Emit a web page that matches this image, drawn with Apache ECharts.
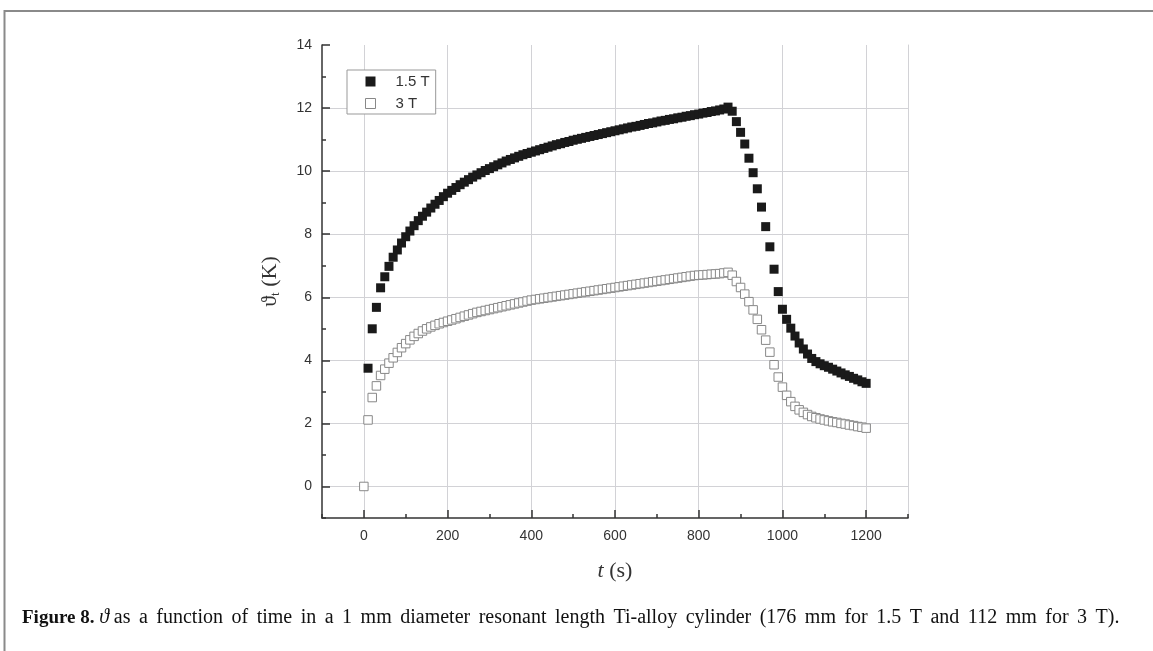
<!DOCTYPE html>
<html>
<head>
<meta charset="utf-8">
<script src="https://cdn.jsdelivr.net/npm/echarts@6/dist/echarts.min.js"></script>
<style>
  html, body { margin: 0; padding: 0; background: #fff; }
  #chart { width: 1153px; height: 651px; }
</style>
</head>
<body>
<div id="chart"></div>
<script>
// time axis (s), one sample every 10 s
const timesA = [] // 1.5 T: 10 .. 1200
const timesB = [] // 3 T: 0 .. 1200
for (let t = 10; t <= 1200; t += 10) timesA.push(t)
for (let t = 0; t <= 1200; t += 10) timesB.push(t)

// temperature rise (K)
const temp15T = [
  3.75, 5.00, 5.68, 6.30, 6.65, 6.98, 7.27, 7.50, 7.72, 7.92,
  8.10, 8.27, 8.43, 8.57, 8.70, 8.83, 8.95, 9.07, 9.19, 9.30,
  9.39, 9.48, 9.57, 9.65, 9.73, 9.81, 9.88, 9.95, 10.02, 10.08,
  10.14, 10.20, 10.26, 10.32, 10.37, 10.42, 10.47, 10.52, 10.56, 10.60,
  10.64, 10.68, 10.72, 10.76, 10.80, 10.84, 10.87, 10.91, 10.94, 10.98,
  11.01, 11.04, 11.07, 11.10, 11.13, 11.16, 11.19, 11.22, 11.25, 11.28,
  11.31, 11.34, 11.37, 11.40, 11.42, 11.45, 11.48, 11.51, 11.53, 11.56,
  11.59, 11.61, 11.64, 11.66, 11.69, 11.71, 11.74, 11.76, 11.79, 11.81,
  11.84, 11.86, 11.89, 11.91, 11.94, 11.97, 12.03, 11.90, 11.57, 11.23,
  10.86, 10.41, 9.95, 9.44, 8.86, 8.24, 7.60, 6.89, 6.18, 5.62,
  5.30, 5.02, 4.77, 4.55, 4.36, 4.20, 4.06, 3.96, 3.89, 3.83,
  3.78, 3.72, 3.66, 3.60, 3.54, 3.49, 3.43, 3.38, 3.32, 3.27
]
const temp3T = [
  0.00, 2.11, 2.82, 3.19, 3.52, 3.72, 3.91, 4.08, 4.25, 4.40, 4.53,
  4.65, 4.76, 4.85, 4.93, 5.00, 5.06, 5.11, 5.16, 5.20, 5.24,
  5.28, 5.32, 5.36, 5.40, 5.44, 5.48, 5.52, 5.55, 5.58, 5.61,
  5.64, 5.67, 5.70, 5.73, 5.76, 5.79, 5.82, 5.85, 5.88, 5.91,
  5.93, 5.95, 5.97, 5.99, 6.01, 6.03, 6.05, 6.07, 6.09, 6.11,
  6.13, 6.15, 6.17, 6.19, 6.21, 6.23, 6.25, 6.27, 6.29, 6.31,
  6.33, 6.35, 6.37, 6.39, 6.41, 6.43, 6.45, 6.47, 6.49, 6.51,
  6.53, 6.55, 6.57, 6.59, 6.61, 6.63, 6.65, 6.67, 6.69, 6.70,
  6.71, 6.72, 6.73, 6.74, 6.75, 6.77, 6.79, 6.70, 6.50, 6.31,
  6.10, 5.86, 5.60, 5.30, 4.97, 4.64, 4.26, 3.86, 3.47, 3.15,
  2.89, 2.69, 2.54, 2.43, 2.35, 2.28, 2.22, 2.18, 2.14, 2.11,
  2.08, 2.05, 2.03, 2.00, 1.98, 1.95, 1.93, 1.90, 1.88, 1.85
]

const xMajorTicks = [0, 200, 400, 600, 800, 1000, 1200]
const yMajorTicks = [0, 2, 4, 6, 8, 10, 12, 14]
const seriesNames = ['1.5 T', '3 T']
const captionText = 'as a function of time in a 1 mm diameter resonant length Ti-alloy cylinder (176 mm for 1.5 T and 112 mm for 3 T).'

const chart = echarts.init(document.getElementById('chart'))

const axisColor = '#333'
const gridColor = '#d2d2d6'
const serif = 'Liberation Serif, Times New Roman, serif'
const labelFont = { color: '#333', fontSize: 14, fontFamily: 'Liberation Sans, Arial, sans-serif' }

// caption words as separate rich tokens so the word gaps can be widened a bit
const captionRich = captionText.split(' ').map(w => '{w|' + w + ' }').join('')

const option = {
  animation: false,
  backgroundColor: '#fff',
  grid: { left: 322, right: 245, top: 45, bottom: 133 },
  legend: {
    orient: 'vertical',
    left: 347,
    top: 70,
    padding: [4, 6, 3, 18],
    itemGap: 7,
    itemWidth: 10,
    itemHeight: 10,
    backgroundColor: '#fff',
    borderColor: '#999',
    borderWidth: 1,
    textStyle: { ...labelFont, fontSize: 15, padding: [0, 0, 0, 15] },
    data: [
      { name: seriesNames[0], icon: 'rect', itemStyle: { color: '#1a1a1a' } },
      { name: seriesNames[1], icon: 'rect', itemStyle: { color: '#fff', borderColor: '#888', borderWidth: 1 } }
    ]
  },
  xAxis: [
    {
      // minor ticks every 100 s
      type: 'value', min: -100, max: 1300, interval: 100, position: 'bottom',
      axisLine: { show: true, onZero: false, lineStyle: { color: axisColor, width: 1.5 } },
      axisTick: { inside: true, length: 4, lineStyle: { color: axisColor, width: 1.5 } },
      axisLabel: { show: false },
      splitLine: { show: false }
    },
    {
      type: 'value', min: -100, max: 1300, position: 'bottom',
      axisLine: { show: false, onZero: false },
      axisTick: { inside: true, length: 8, customValues: xMajorTicks, lineStyle: { color: axisColor, width: 1.5 } },
      axisLabel: { customValues: xMajorTicks, margin: 11, formatter: v => String(v), ...labelFont },
      splitLine: { show: true, lineStyle: { color: gridColor, width: 1 } },
      name: '{i|t} (s)',
      nameLocation: 'middle',
      nameGap: 42,
      nameTextStyle: {
        fontFamily: serif, fontSize: 22, color: '#333',
        rich: { i: { fontFamily: serif, fontSize: 22, fontStyle: 'italic', color: '#333' } }
      }
    }
  ],
  yAxis: [
    {
      type: 'value', min: -1, max: 14, interval: 1, position: 'left',
      axisLine: { show: true, onZero: false, lineStyle: { color: axisColor, width: 1.5 } },
      axisTick: { inside: true, length: 4, lineStyle: { color: axisColor, width: 1.5 } },
      axisLabel: { show: false },
      splitLine: { show: false }
    },
    {
      type: 'value', min: -1, max: 14, position: 'left',
      axisLine: { show: false, onZero: false },
      axisTick: { inside: true, length: 8, customValues: yMajorTicks, lineStyle: { color: axisColor, width: 1.5 } },
      axisLabel: { customValues: yMajorTicks, margin: 10, ...labelFont },
      splitLine: { show: true, showMaxLine: false, lineStyle: { color: gridColor, width: 1 } },
      name: '{a|ϑ}{s|t}{a| (K)}',
      nameLocation: 'middle',
      nameGap: 40,
      nameTextStyle: {
        color: '#333',
        rich: {
          a: { fontFamily: serif, fontSize: 22, color: '#333' },
          s: { fontFamily: serif, fontSize: 13, color: '#333', verticalAlign: 'bottom', padding: [10, 0, 0, 0] }
        }
      }
    },
    {
      // thin frame line on the right
      type: 'value', min: -1, max: 14, position: 'right',
      axisLine: { show: true, onZero: false, lineStyle: { color: gridColor, width: 1 } },
      axisTick: { show: false },
      axisLabel: { show: false },
      splitLine: { show: false }
    }
  ],
  series: [
    {
      name: seriesNames[0],
      type: 'scatter',
      symbol: 'rect',
      symbolSize: 9,
      itemStyle: { color: '#1a1a1a', opacity: 1 },
      data: timesA.map((t, i) => [t, temp15T[i]]),
      z: 3
    },
    {
      name: seriesNames[1],
      type: 'scatter',
      symbol: 'rect',
      symbolSize: 8.5,
      itemStyle: { color: '#fff', borderColor: '#888', borderWidth: 1, opacity: 1 },
      data: timesB.map((t, i) => [t, temp3T[i]]),
      z: 4
    }
  ],
  graphic: [
    {
      type: 'polyline',
      silent: true,
      shape: { points: [[1153, 11], [4.5, 11], [4.5, 651]] },
      style: { stroke: '#8a8a8a', lineWidth: 2, fill: null }
    },
    {
      type: 'text',
      left: 22,
      top: 608,
      style: {
        text: '{b|Figure 8.} {i|ϑ} ' + captionRich,
        font: '19px "Liberation Serif", "Times New Roman", serif',
        fill: '#111',
        rich: {
          b: { fontFamily: serif, fontSize: 19, fontWeight: 'bold', fill: '#111' },
          i: { fontFamily: serif, fontSize: 20, fontStyle: 'italic', fill: '#111' },
          w: { fontFamily: serif, fontSize: 20, fill: '#111', padding: [0, 3.5, 0, 0] }
        }
      }
    }
  ]
}

chart.setOption(option)

window.addEventListener('resize', () => {
  chart.resize()
})
</script>
</body>
</html>
